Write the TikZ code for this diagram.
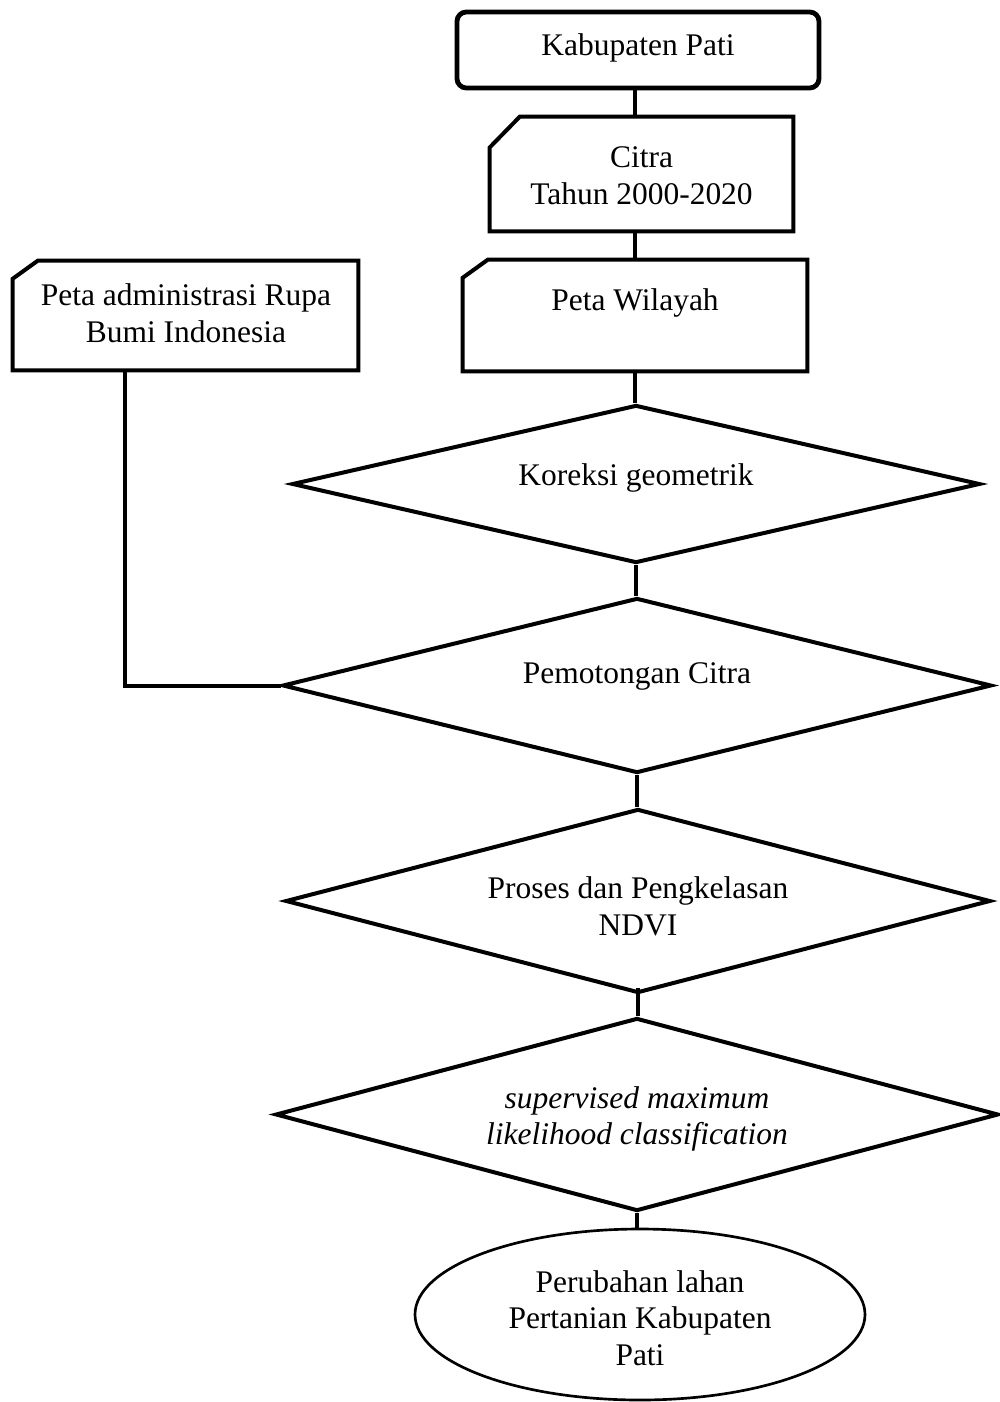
\documentclass[tikz,border=0pt]{standalone}
\usepackage{fontspec}
\setmainfont{Liberation Serif}
\usetikzlibrary{shapes.geometric}
\begin{document}
\begin{tikzpicture}[x=0.75pt,y=-0.75pt,
  line/.style={line width=3pt},
  txt/.style={font=\fontsize{23.6pt}{27.5pt}\selectfont, align=center, inner sep=0pt},
  frame/.style={rectangle, inner sep=0pt},
  decision/.style={diamond, draw, line width=3pt, inner sep=0pt},
  terminal/.style={ellipse, draw, line width=2pt, inner sep=0pt}]
\useasboundingbox (0,0) rectangle (999,1402);

% top rounded box
\node[frame, draw, line width=3.6pt, rounded corners=7pt, minimum width=271.5pt, minimum height=57pt] (kab) at (638,50) {};
\node[txt] (kabt) at (638,48) {Kabupaten Pati};

% Citra box (chamfered)
\node[frame, minimum width=227.25pt, minimum height=85.5pt] (citra) at (641.5,174) {};
\draw[line] ([yshift=-23pt]citra.north west) -- ([xshift=22.5pt]citra.north west) -- (citra.north east) -- (citra.south east) -- (citra.south west) -- cycle;
\node[txt] (citrat) at (641.5,176) {Citra\\Tahun 2000-2020};

% Peta Wilayah
\node[frame, minimum width=258pt, minimum height=83.25pt] (wil) at (635,315.5) {};
\draw[line] ([yshift=-13.5pt]wil.north west) -- ([xshift=18.75pt]wil.north west) -- (wil.north east) -- (wil.south east) -- (wil.south west) -- cycle;
\node[txt] (wilt) at (635,303) {Peta Wilayah};

% Peta administrasi
\node[frame, minimum width=258.75pt, minimum height=81.75pt] (adm) at (185.5,315.5) {};
\draw[line] ([yshift=-13.5pt]adm.north west) -- ([xshift=18.75pt]adm.north west) -- (adm.north east) -- (adm.south east) -- (adm.south west) -- cycle;
\node[txt] (admt) at (186,313) {Peta administrasi Rupa\\Bumi Indonesia};

% diamonds
\node[decision, minimum width=516pt, minimum height=118.5pt] (kor) at (636,484) {};
\node[txt] (kort) at (636,478) {Koreksi geometrik};

\node[decision, minimum width=531.75pt, minimum height=131.25pt] (pem) at (637,685.5) {};
\node[txt] (pemt) at (637,676) {Pemotongan Citra};

\node[decision, minimum width=528.75pt, minimum height=138pt] (ndvi) at (638,901) {};
\node[txt] (ndvit) at (638,906) {Proses dan Pengkelasan\\NDVI};

\node[decision, minimum width=542.25pt, minimum height=144.75pt] (sup) at (637,1114.5) {};
\node[txt, font=\fontsize{23.6pt}{27.5pt}\selectfont\itshape] (supt) at (637,1119) {supervised maximum\\likelihood classification};

% ellipse
\node[terminal, minimum width=337.5pt, minimum height=128.25pt] (ell) at (640,1314.5) {};
\node[txt] (ellt) at (640,1318) {Perubahan lahan\\Pertanian Kabupaten\\Pati};

% connectors
\draw[line] (kab.south -| wil.north) -- (citra.north -| wil.north);
\draw[line] (citra.south -| wil.north) -- (wil.north);
\draw[line] (wil.south) -- (wil.south |- kor.north);
\draw[line] (kor.south) -- (kor.south |- pem.north);
\draw[line] (pem.south) -- (pem.south |- ndvi.north);
\draw[line] ([yshift=5pt]ndvi.south) -- (ndvi.south |- sup.north);
\draw[line] (sup.south) -- (sup.south |- ell.north);
\draw[line] ([xshift=-45.75pt]adm.south) |- (pem.west);
\end{tikzpicture}
\end{document}
